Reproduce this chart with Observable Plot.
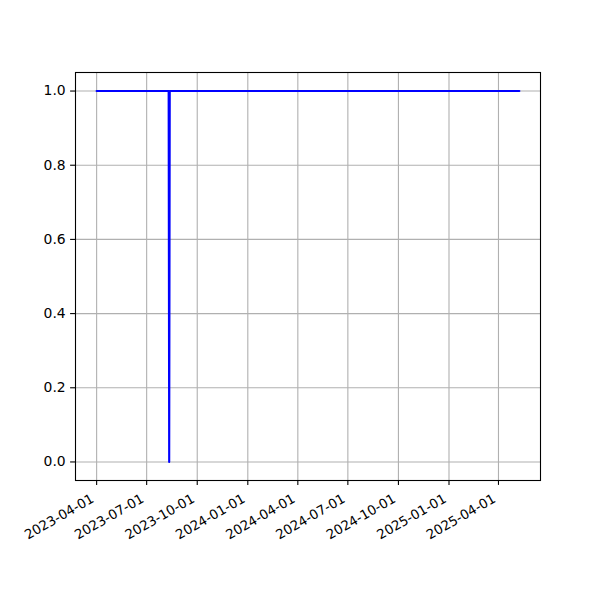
<!DOCTYPE html>
<html>
<head>
<meta charset="utf-8">
<script src="https://cdn.jsdelivr.net/npm/d3@7"></script>
<script src="https://cdn.jsdelivr.net/npm/@observablehq/plot@0.6"></script>
<style>
  html, body { margin: 0; padding: 0; background: #fff; }
  #chart svg { display: block; }
</style>
</head>
<body>
<div id="chart"></div>
<script>
// Data
const dates = ["2023-04-01", "2023-08-10", "2023-08-11", "2023-08-12", "2025-05-09"];
const values = [1, 1, 0, 1, 1];
const xTickLabels = ["2023-04-01", "2023-07-01", "2023-10-01", "2024-01-01", "2024-04-01",
                     "2024-07-01", "2024-10-01", "2025-01-01", "2025-04-01"];
const yTicks = [0.0, 0.2, 0.4, 0.6, 0.8, 1.0];

const data = dates.map((d, i) => ({date: new Date(d + "T00:00:00Z"), value: values[i]}));
const xTicks = xTickLabels.map(d => new Date(d + "T00:00:00Z"));

// matplotlib-style 5% margins
const [x0, x1] = d3.extent(data, d => +d.date);
const xPad = (x1 - x0) * 0.05;
const [y0, y1] = d3.extent(data, d => d.value);
const yPad = (y1 - y0) * 0.05;

const fmt = d3.utcFormat("%Y-%m-%d");

const chart = Plot.plot({
  width: 600,
  height: 600,
  marginLeft: 75,
  marginRight: 60,
  marginTop: 72,
  marginBottom: 120,
  style: {fontFamily: "DejaVu Sans", fontSize: "13.9px", color: "#000", background: "#fff"},
  x: {type: "utc", domain: [new Date(x0 - xPad), new Date(x1 + xPad)]},
  y: {domain: [y0 - yPad, y1 + yPad]},
  marks: [
    Plot.ruleX(xTicks, {stroke: "#b0b0b0", strokeWidth: 1.1}),
    Plot.ruleY(yTicks, {stroke: "#b0b0b0", strokeWidth: 1.1}),
    Plot.lineY(data, {x: "date", y: "value", stroke: "#0000ff", strokeWidth: 2.1}),
    Plot.axisX({ticks: xTicks, tickFormat: () => "", tickSize: 4.9, label: null, stroke: "#000", strokeWidth: 1.1}),
    Plot.text(xTicks, {x: d => d, text: d => fmt(d), frameAnchor: "bottom", textAnchor: "end", lineAnchor: "top",
                       rotate: -30, dx: -6.5, dy: 12.5, fill: "#000", fontSize: 13.3}),
    Plot.axisY({ticks: yTicks, tickFormat: d3.format(".1f"), tickSize: 4.9, tickPadding: 4.9, label: null, stroke: "#000", strokeWidth: 1.1}),
    Plot.frame({stroke: "#000", strokeWidth: 1.1})
  ]
});
document.getElementById("chart").appendChild(chart);
</script>
</body>
</html>
